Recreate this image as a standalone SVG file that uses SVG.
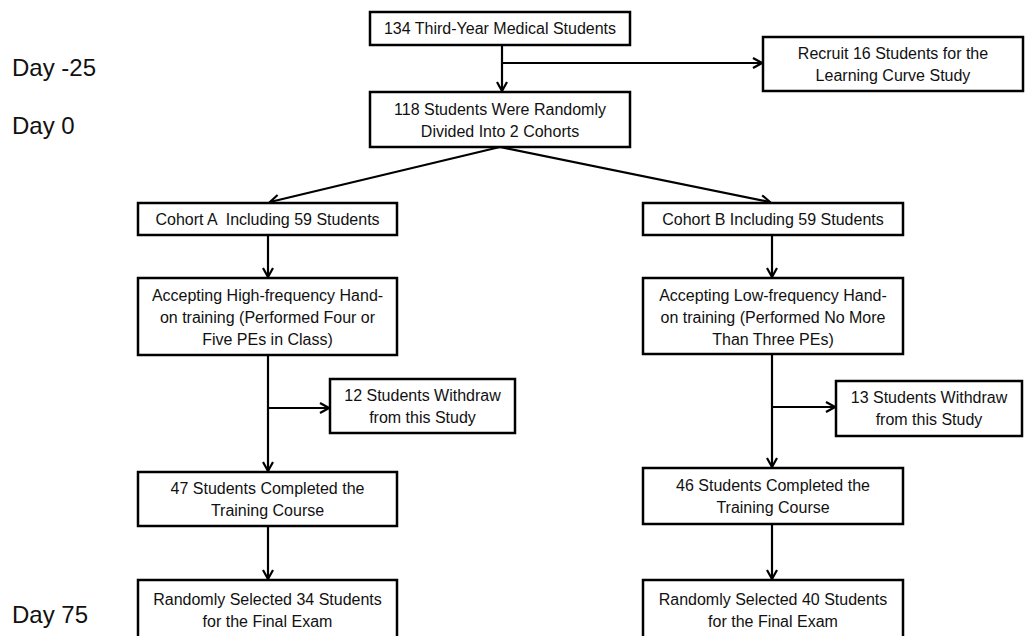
<svg xmlns="http://www.w3.org/2000/svg" width="1027" height="636" viewBox="0 0 1027 636">
<style>
.box{fill:#fff;stroke:#000;stroke-width:2.5}
.t{font-family:"Liberation Sans",Arial,sans-serif;font-size:16px;fill:#111;text-anchor:middle}
.day{font-family:"Liberation Sans",Arial,sans-serif;font-size:24px;fill:#111}
.c{fill:none;stroke:#000;stroke-width:2.2}
</style>
<defs>
<marker id="arr" viewBox="0 0 12 12" refX="10.5" refY="6" markerWidth="12" markerHeight="12" markerUnits="userSpaceOnUse" orient="auto">
<path d="M1.5,1 L10.5,6 L1.5,11" fill="none" stroke="#000" stroke-width="2.2"/>
</marker>
</defs>
<rect width="1027" height="636" fill="#fff"/>
<g id="days">
<text class="day" x="12" y="76">Day -25</text>
<text class="day" x="12" y="134">Day 0</text>
<text class="day" x="12" y="623">Day 75</text>
</g>
<g id="connectors">
<path class="c" d="M502,45 V91" marker-end="url(#arr)"/>
<path class="c" d="M502,63 H762" marker-end="url(#arr)"/>
<path class="c" d="M500,147 L270,202" marker-end="url(#arr)"/>
<path class="c" d="M500,147 L770,202" marker-end="url(#arr)"/>
<path class="c" d="M268,235 V277" marker-end="url(#arr)"/>
<path class="c" d="M268,355 V471" marker-end="url(#arr)"/>
<path class="c" d="M268,408 H329" marker-end="url(#arr)"/>
<path class="c" d="M268,526 V579" marker-end="url(#arr)"/>
<path class="c" d="M772,235 V277" marker-end="url(#arr)"/>
<path class="c" d="M772,354 V467" marker-end="url(#arr)"/>
<path class="c" d="M772,407 H835" marker-end="url(#arr)"/>
<path class="c" d="M772,524 V579" marker-end="url(#arr)"/>
</g>
<g id="n1"><rect class="box" x="370" y="12" width="260" height="33"/><text class="t" x="500" y="34">134 Third-Year Medical Students</text></g>
<g id="n2"><rect class="box" x="763" y="37" width="260" height="54"/><text class="t" x="893" y="59">Recruit 16 Students for the</text><text class="t" x="893" y="81">Learning Curve Study</text></g>
<g id="n3"><rect class="box" x="370" y="92" width="260" height="55"/><text class="t" x="500" y="115">118 Students Were Randomly</text><text class="t" x="500" y="137">Divided Into 2 Cohorts</text></g>
<g id="n4"><rect class="box" x="138" y="203" width="259" height="32"/><text class="t" x="267.5" y="225" xml:space="preserve">Cohort A  Including 59 Students</text></g>
<g id="n5"><rect class="box" x="643" y="203" width="260" height="32"/><text class="t" x="773" y="225">Cohort B Including 59 Students</text></g>
<g id="n6"><rect class="box" x="138" y="278" width="259" height="77"/><text class="t" x="267.5" y="301">Accepting High-frequency Hand-</text><text class="t" x="267.5" y="323">on training (Performed Four or</text><text class="t" x="267.5" y="345">Five PEs in Class)</text></g>
<g id="n7"><rect class="box" x="643" y="278" width="260" height="76"/><text class="t" x="773" y="301">Accepting Low-frequency Hand-</text><text class="t" x="773" y="323">on training (Performed No More</text><text class="t" x="773" y="345">Than Three PEs)</text></g>
<g id="n8"><rect class="box" x="330" y="379" width="185" height="54"/><text class="t" x="422.5" y="401">12 Students Withdraw</text><text class="t" x="422.5" y="423">from this Study</text></g>
<g id="n9"><rect class="box" x="836" y="381" width="186" height="55"/><text class="t" x="929" y="403">13 Students Withdraw</text><text class="t" x="929" y="425">from this Study</text></g>
<g id="n10"><rect class="box" x="138" y="472" width="259" height="54"/><text class="t" x="267.5" y="494">47 Students Completed the</text><text class="t" x="267.5" y="516">Training Course</text></g>
<g id="n11"><rect class="box" x="643" y="468" width="260" height="56"/><text class="t" x="773" y="491">46 Students Completed the</text><text class="t" x="773" y="513">Training Course</text></g>
<g id="n12"><rect class="box" x="138" y="580" width="259" height="64"/><text class="t" x="267.5" y="605">Randomly Selected 34 Students</text><text class="t" x="267.5" y="627">for the Final Exam</text></g>
<g id="n13"><rect class="box" x="643" y="580" width="260" height="64"/><text class="t" x="773" y="605">Randomly Selected 40 Students</text><text class="t" x="773" y="627">for the Final Exam</text></g>
</svg>
